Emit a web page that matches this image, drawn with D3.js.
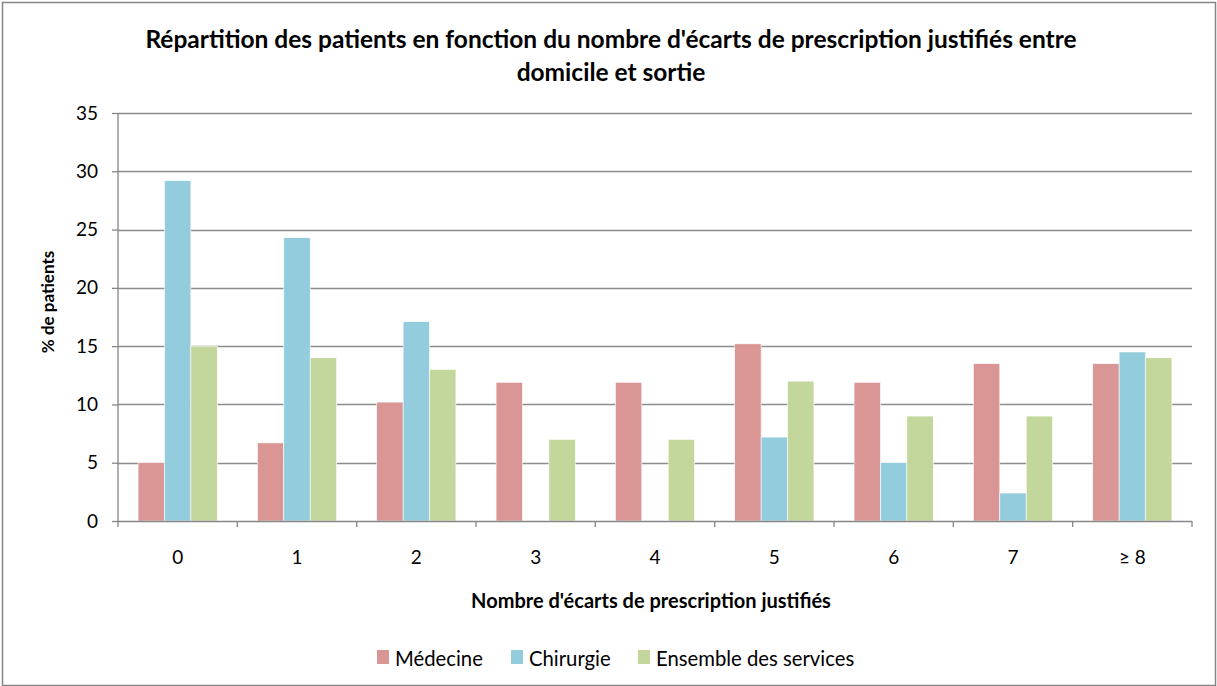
<!DOCTYPE html>
<html>
<head>
<meta charset="utf-8">
<script src="https://cdn.jsdelivr.net/npm/d3@7"></script>
<style>
  body { margin: 0; background: #fff; }
  svg text { font-family: Lato, 'Open Sans', sans-serif; fill: #000; }
</style>
</head>
<body>
<div id="chart"></div>
<script>
'use strict'

const categories = ['0', '1', '2', '3', '4', '5', '6', '7', '≥ 8']
const seriesNames = ['Médecine', 'Chirurgie', 'Ensemble des services']
const medecine = [5.0, 6.7, 10.2, 11.9, 11.9, 15.2, 11.9, 13.5, 13.5]
const chirurgie = [29.2, 24.3, 17.1, 0, 0, 7.2, 5.0, 2.4, 14.5]
const ensemble = [15.0, 14.0, 13.0, 7.0, 7.0, 12.0, 9.0, 9.0, 14.0]
const yTicks = [0, 5, 10, 15, 20, 25, 30, 35]
const colors = ['#d99694', '#93cddd', '#c3d69b']

const width = 1217
const height = 686
const margin = { top: 113, right: 25, bottom: 165, left: 118 }
const innerW = width - margin.left - margin.right
const innerH = height - margin.top - margin.bottom

const data = categories.map((c, i) => ({
  cat: c,
  values: [medecine[i], chirurgie[i], ensemble[i]]
}))

const svg = d3.select('#chart')
  .append('svg')
  .attr('width', width)
  .attr('height', height)

// outer frame
svg.append('rect')
  .attr('x', 2.5)
  .attr('y', 2.5)
  .attr('width', width - 4)
  .attr('height', height - 3)
  .attr('fill', 'none')
  .attr('stroke', '#868686')
  .attr('stroke-width', 1.5)

const g = svg.append('g')
  .attr('transform', `translate(${margin.left}, ${margin.top})`)

const x0 = d3.scaleBand().domain(categories).range([0, innerW]).padding(0)
const x1 = d3.scaleBand().domain([0, 1, 2]).range([0, x0.bandwidth()]).paddingInner(0).paddingOuter(0.76)
const y = d3.scaleLinear().domain([0, 35]).range([innerH, 0])

// gridlines
g.append('g')
  .selectAll('line')
  .data(yTicks.slice(1))
  .join('line')
  .attr('x1', 0)
  .attr('x2', innerW)
  .attr('y1', (d) => Math.round(y(d)) + 0.5)
  .attr('y2', (d) => Math.round(y(d)) + 0.5)
  .attr('stroke', '#8c8c8c')
  .attr('stroke-width', 1.3)

// bars
g.append('g')
  .selectAll('g')
  .data(data)
  .join('g')
  .attr('transform', (d) => `translate(${x0(d.cat)}, 0)`)
  .selectAll('rect')
  .data((d) => d.values.map((v, i) => ({ v, i })))
  .join('rect')
  .attr('x', (d) => x1(d.i))
  .attr('width', x1.bandwidth())
  .attr('y', (d) => y(d.v))
  .attr('height', (d) => innerH - y(d.v))
  .attr('fill', (d) => colors[d.i])
  .attr('stroke', (d) => d.v > 0 ? '#fff' : 'none')
  .attr('stroke-width', 0.6)

// y axis
const yAxis = g.append('g')
  .call(d3.axisLeft(y).tickValues(yTicks).tickSize(6).tickPadding(14).tickFormat(d3.format('d')))
yAxis.select('.domain').attr('stroke', '#868686').attr('stroke-width', 1.3).attr('d', `M0,0V${innerH}`)
yAxis.selectAll('.tick line').attr('stroke', '#868686').attr('stroke-width', 1.3)
yAxis.selectAll('.tick text').style('font-size', '19px').style('font-family', 'Lato, sans-serif')

// x axis
const xAxisG = g.append('g').attr('transform', `translate(0, ${innerH})`)
xAxisG.append('line')
  .attr('x1', 0).attr('x2', innerW)
  .attr('y1', 0.5).attr('y2', 0.5)
  .attr('stroke', '#868686').attr('stroke-width', 1.3)
xAxisG.selectAll('.xtick')
  .data(d3.range(categories.length + 1))
  .join('line')
  .attr('class', 'xtick')
  .attr('x1', (i) => i * x0.step())
  .attr('x2', (i) => i * x0.step())
  .attr('y1', 0)
  .attr('y2', 6)
  .attr('stroke', '#868686').attr('stroke-width', 1.3)
xAxisG.selectAll('.xlabel')
  .data(categories)
  .join('text')
  .attr('class', 'xlabel')
  .attr('x', (d) => x0(d) + x0.bandwidth() / 2)
  .attr('y', 43)
  .attr('text-anchor', 'middle')
  .style('font-size', '19px')
  .text((d) => d)

// title
const title = svg.append('text')
  .attr('text-anchor', 'middle')
  .style('font-size', '24.5px')
  .style('font-weight', 'bold')
title.append('tspan').attr('x', 611).attr('y', 48).text("Répartition des patients en fonction du nombre d'écarts de prescription justifiés entre")
title.append('tspan').attr('x', 611).attr('y', 81).text('domicile et sortie')

// axis titles
svg.append('text')
  .attr('x', 651)
  .attr('y', 608)
  .attr('text-anchor', 'middle')
  .style('font-size', '20px')
  .style('font-weight', 'bold')
  .text("Nombre d'écarts de prescription justifiés")

svg.append('text')
  .attr('transform', 'translate(54, 302) rotate(-90)')
  .attr('text-anchor', 'middle')
  .style('font-size', '17px')
  .style('font-weight', 'bold')
  .text('% de patients')

// legend
const legendX = [377, 511, 638]
const legend = svg.append('g')
  .selectAll('g')
  .data(seriesNames)
  .join('g')
  .attr('transform', (d, i) => `translate(${legendX[i]}, 650)`)
legend.append('rect')
  .attr('width', 12)
  .attr('height', 14)
  .attr('fill', (d, i) => colors[i])
legend.append('text')
  .attr('x', 18)
  .attr('y', 16)
  .style('font-size', '20.3px')
  .text((d) => d)
</script>
</body>
</html>
